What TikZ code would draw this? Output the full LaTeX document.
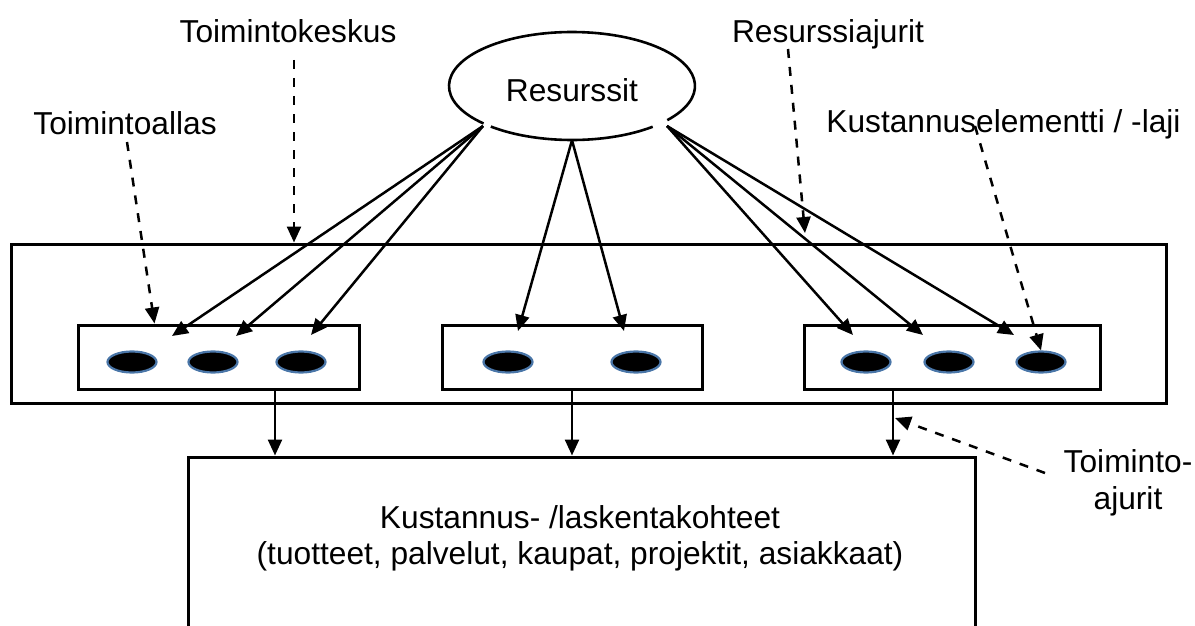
\documentclass[tikz,border=0pt]{standalone}
\usepackage{fontspec}
\setmainfont{Liberation Sans}
\usetikzlibrary{shapes.geometric,arrows.meta}
\definecolor{rimblue}{RGB}{74,118,168}
\begin{document}
\begin{tikzpicture}[x=1pt,y=-1pt,
  font=\fontsize{31.7}{36.6}\selectfont,
  lbl/.style={inner sep=0pt, anchor=base},
  mlbl/.style={inner sep=0pt, anchor=north, align=center},
  box/.style={draw, line width=3pt, inner sep=0pt},
  elem/.style={ellipse, draw=rimblue, fill=black, line width=2.2pt,
               minimum width=49pt, minimum height=21pt, inner sep=0pt},
  arr/.style={line width=2.5pt, -{Triangle[length=16pt,width=14pt]}},
  dsh/.style={arr, dash pattern=on 9pt off 9pt},
  rim/.style={line width=2.6pt}
]
\useasboundingbox (0,0) rectangle (1195,626);

% resource ellipse (outline drawn separately, with two openings)
\node[ellipse, minimum width=246pt, minimum height=108pt, inner sep=0pt,
      text height=32pt, text depth=0pt] (res) at (572,86) {Resurssit};
\draw[rim] (res.center) ++(49:123 and 54)
  arc[start angle=49, end angle=131.3, x radius=123, y radius=54];
\draw[rim] (res.center) ++(136:123 and 54)
  arc[start angle=136, end angle=399.2, x radius=123, y radius=54];

% activity centre and activity pools
\node[box, minimum width=1155pt, minimum height=159pt] (tk) at (588.5,323.5) {};
\node[box, minimum width=281pt, minimum height=64pt] (p1) at (218.5,357) {};
\node[box, minimum width=260pt, minimum height=64pt] (p2) at (572,357) {};
\node[box, minimum width=296pt, minimum height=64pt] (p3) at (952,357) {};

% cost elements
\node[elem] (e1) at (132,362) {};
\node[elem] (e2) at (213,362) {};
\node[elem] (e3) at (301,362) {};
\node[elem] (e4) at (508,362) {};
\node[elem] (e5) at (636,362) {};
\node[elem] (e6) at (866,362) {};
\node[elem] (e7) at (949,362) {};
\node[elem] (e8) at (1041,362) {};

% cost objects
\node[box, minimum width=787pt, minimum height=300pt] (kk) at (581.5,607) {};
\node[mlbl] (kt) at (580,505)
  {Kustannus- /laskentakohteet\\(tuotteet, palvelut, kaupat, projektit, asiakkaat)};

% labels
\node[lbl] (lkeskus) at (288,43) {Toimintokeskus};
\node[lbl] (lallas) at (125,134) {Toimintoallas};
\node[lbl] (lresaj) at (828,43) {Resurssiajurit};
\node[lbl] (lelem) at (1003.5,132) {Kustannuselementti / -laji};
\node[mlbl] (ltoaj) at (1128,449.3) {Toiminto-\\ajurit};

% resource drivers
\coordinate (rl) at (483,126);
\coordinate (rr) at (667,126);
\coordinate (t1) at (172,336);
\coordinate (t2) at (236,336);
\coordinate (t3) at (311,335);
\coordinate (t4) at (518,331);
\coordinate (t5) at (624,331);
\coordinate (t6) at (853,335);
\coordinate (t7) at (923,335);
\coordinate (t8) at (1014,335);
\foreach \t in {t1,t2,t3} \draw[arr] (rl) -- (\t);
\foreach \t in {t4,t5} \draw[arr] (res.south) -- (\t);
\foreach \t in {t6,t7,t8} \draw[arr] (rr) -- (\t);

% activity drivers
\coordinate (d1) at ([xshift=56.5pt]p1.south);
\coordinate (d2) at (p2.south);
\coordinate (d3) at ([xshift=-59pt]p3.south);
\foreach \d in {d1,d2,d3} \draw[arr] (\d) -- (\d |- kk.north);

% dashed pointers from the labels
\coordinate (c1) at (294,60);
\draw[dsh] (c1) -- (c1 |- tk.north);
\coordinate (c2) at (127,142);
\draw[dsh] (c2) -- ([xshift=78pt]p1.north west);
\coordinate (c3) at (788,49);
\coordinate (c3e) at (805,233);
\draw[dsh] (c3) -- (c3e);
\coordinate (c4) at (975,126);
\draw[dsh] (c4) -- (e8.north);
\coordinate (c5) at (1045,473);
\coordinate (c5e) at (895,418);
\draw[dsh] (c5) -- (c5e);
\end{tikzpicture}
\end{document}
